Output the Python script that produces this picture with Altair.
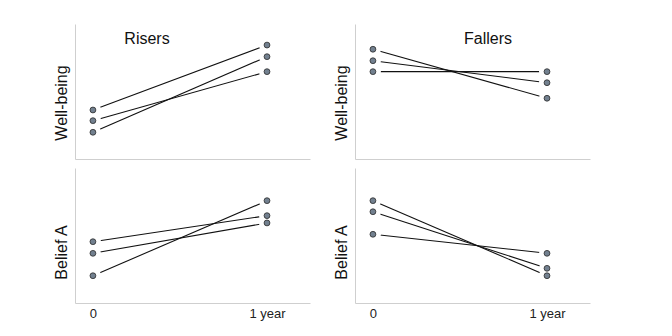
import altair as alt
import pandas as pd

times = [0, 1]
time_labels = ["0", "1 year"]
groups = ["Risers", "Fallers"]
measures = ["Well-being", "Belief A"]

# value at time 0 and at 1 year for each of the three lines
wb_risers_start = [3.63, 2.84, 1.98]
wb_risers_end = [8.44, 6.47, 7.58]
wb_fallers_start = [8.13, 7.28, 6.47]
wb_fallers_end = [4.50, 5.65, 6.47]
ba_risers_start = [4.54, 3.68, 2.02]
ba_risers_end = [6.47, 5.93, 7.58]
ba_fallers_start = [7.58, 6.76, 5.09]
ba_fallers_end = [2.02, 2.57, 3.68]

series = {
    ("Well-being", "Risers"): (wb_risers_start, wb_risers_end),
    ("Well-being", "Fallers"): (wb_fallers_start, wb_fallers_end),
    ("Belief A", "Risers"): (ba_risers_start, ba_risers_end),
    ("Belief A", "Fallers"): (ba_fallers_start, ba_fallers_end),
}

rows = []
for (m, g), (s, e) in series.items():
    for i, (a, b) in enumerate(zip(s, e)):
        rows.append({"measure": m, "group": g, "id": i, "t": times[0], "v": a})
        rows.append({"measure": m, "group": g, "id": i, "t": times[1], "v": b})
df = pd.DataFrame(rows)

FONT = "Liberation Sans"
AXIS_COLOR = "#cfcfcf"
label_expr = " : ".join(
    [f"datum.value == {t} ? '{lab}'" for t, lab in zip(times, time_labels)] + ["''"]
)
title_pos = {"Risers": 72, "Fallers": 133}


def panel(m, g, bottom, show_title):
    d = df[(df.measure == m) & (df.group == g)]
    x = alt.X(
        "t:Q",
        scale=alt.Scale(domain=[-0.103, 1.247], nice=False, zero=False),
        axis=alt.Axis(
            values=times,
            labelExpr=label_expr,
            labels=bottom,
            ticks=False,
            grid=False,
            title=None,
            domainColor=AXIS_COLOR,
            domainWidth=1,
            labelFont=FONT,
            labelFontSize=13,
            labelColor="#222222",
            labelPadding=4,
        ),
    )
    y = alt.Y(
        "v:Q",
        scale=alt.Scale(domain=[0, 10], nice=False, zero=False),
        axis=alt.Axis(
            labels=False,
            ticks=False,
            grid=False,
            title=m,
            titleFont=FONT,
            titleFontSize=16,
            titleFontWeight="normal",
            titleColor="#111111",
            titleAngle=270,
            titleBaseline="alphabetic",
            titleX=-8.5,
            titleY=78.5 if m == "Well-being" else 84,
            domainColor=AXIS_COLOR,
            domainWidth=1,
        ),
    )
    base = alt.Chart(d).encode(x=x, y=y)
    lines = base.mark_line(color="#111111", strokeWidth=1.1).encode(detail="id:N")
    halo = base.mark_circle(size=256, color="#ffffff", opacity=1)
    dots = base.mark_point(
        filled=True, shape="circle", size=34, fill="#72808f", stroke="#2b2b2b",
        strokeWidth=0.8, opacity=1,
    )
    layers = [lines, halo, dots]
    if show_title:
        ttl = alt.Chart(pd.DataFrame({"title": [g]})).mark_text(
            font=FONT, fontSize=16, color="#111111", align="center", baseline="alphabetic",
        ).encode(text="title:N", x=alt.value(title_pos[g]), y=alt.value(20))
        layers.append(ttl)
    return alt.layer(*layers).properties(width=235, height=135)


chart = alt.concat(
    panel("Well-being", "Risers", False, True),
    panel("Well-being", "Fallers", False, True),
    panel("Belief A", "Risers", True, False),
    panel("Belief A", "Fallers", True, False),
    columns=2,
    spacing=alt.RowColnumber(row=9, column=45),
).configure(
    padding={"left": 53, "top": 24, "right": 5, "bottom": 5},
).configure_view(stroke=None)

chart = chart.properties(bounds="flush")
chart.save("out.html", embed_options={"renderer": "svg", "actions": False})
